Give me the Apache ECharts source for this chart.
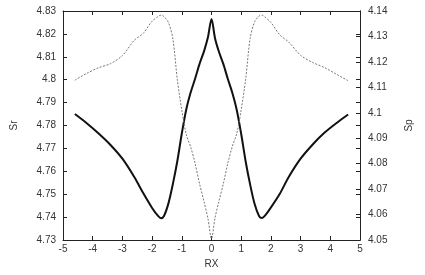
<!DOCTYPE html>
<html><head><meta charset="utf-8">
<script src="https://cdn.jsdelivr.net/npm/echarts@6/dist/echarts.min.js"></script>
<style>html,body{margin:0;padding:0;background:#fff}#c{width:425px;height:275px}</style>
</head><body><div id="c"></div>
<script>
const rx = [-4.6,-4.2,-3.8,-3.4,-3.0,-2.6,-2.3,-2.0,-1.8,-1.7,-1.6,-1.45,-1.3,-1.15,-1.0,-0.85,-0.7,-0.55,-0.4,-0.25,-0.12,0,
            0.12,0.25,0.4,0.55,0.7,0.85,1.0,1.15,1.3,1.45,1.6,1.7,1.8,2.0,2.3,2.6,3.0,3.4,3.8,4.2,4.6];
const sr = [4.7850,4.7810,4.7765,4.7715,4.7655,4.7575,4.7505,4.7440,4.7405,4.7395,4.7405,4.7460,4.7545,4.7645,4.7765,4.7870,4.7945,4.8005,4.8070,4.8125,4.8185,4.8265,
            4.8180,4.8122,4.8068,4.8003,4.7943,4.7868,4.7763,4.7643,4.7543,4.7458,4.7405,4.7396,4.7406,4.7442,4.7502,4.7575,4.7655,4.7716,4.7768,4.7810,4.7848];
const sp = [4.1128,4.1155,4.1177,4.1193,4.1225,4.1285,4.1312,4.1360,4.1378,4.1384,4.1378,4.1355,4.1290,4.1130,4.1010,4.0915,4.0865,4.0800,4.0720,4.0650,4.0585,4.0505,
            4.0588,4.0652,4.0722,4.0802,4.0868,4.0918,4.1012,4.1132,4.1292,4.1357,4.1380,4.1384,4.1376,4.1355,4.1306,4.1278,4.1226,4.1198,4.1178,4.1152,4.1126];
const xTicks = {min:-5, max:5, interval:1};
const srTicks = {min:4.73, max:4.83, interval:0.01};
const spTicks = {min:4.05, max:4.14, interval:0.01};

const font = {fontFamily:'Liberation Sans, Arial, sans-serif', fontSize:10, color:'#333'};
const line = {show:true, onZero:false, lineStyle:{color:'#222', width:1}};
const tick = {show:true, inside:true, length:4, lineStyle:{color:'#222', width:1}};

const chart = echarts.init(document.getElementById('c'), null, {renderer:'canvas'});
chart.setOption({
  animation:false,
  backgroundColor:'#fff',
  grid:{left:63, right:65, top:11, bottom:35, containLabel:false},
  xAxis:[
    {type:'value', position:'bottom', ...xTicks, name:'RX', nameLocation:'middle', nameGap:19,
     nameTextStyle:{...font}, axisLine:line, axisTick:tick, splitLine:{show:false},
     axisLabel:{...font, margin:4}},
    {type:'value', position:'top', ...xTicks, axisLine:line, axisTick:tick, splitLine:{show:false},
     axisLabel:{show:false}}
  ],
  yAxis:[
    {type:'value', position:'left', ...srTicks, name:'Sr', nameLocation:'middle', nameGap:44, nameRotate:90,
     nameTextStyle:{...font}, axisLine:line, axisTick:tick, splitLine:{show:false},
     axisLabel:{...font, margin:7}},
    {type:'value', position:'right', ...spTicks, name:'Sp', nameLocation:'middle', nameGap:44, nameRotate:90,
     nameTextStyle:{...font}, axisLine:line, axisTick:tick, splitLine:{show:false},
     axisLabel:{...font, margin:8}},
    {type:'value', position:'right', ...srTicks, axisLine:line, axisTick:tick, splitLine:{show:false},
     axisLabel:{show:false}}
  ],
  series:[
    {type:'line', name:'Sr', xAxisIndex:0, yAxisIndex:0, data:rx.map((x,i)=>[x,sr[i]]),
     showSymbol:false, smooth:0.3, lineStyle:{color:'#111', width:2}},
    {type:'line', name:'Sp', xAxisIndex:0, yAxisIndex:1, data:rx.map((x,i)=>[x,sp[i]]),
     showSymbol:false, smooth:0.3, lineStyle:{color:'#777', width:1, type:[2,1.5]}}
  ]
});
</script></body></html>
